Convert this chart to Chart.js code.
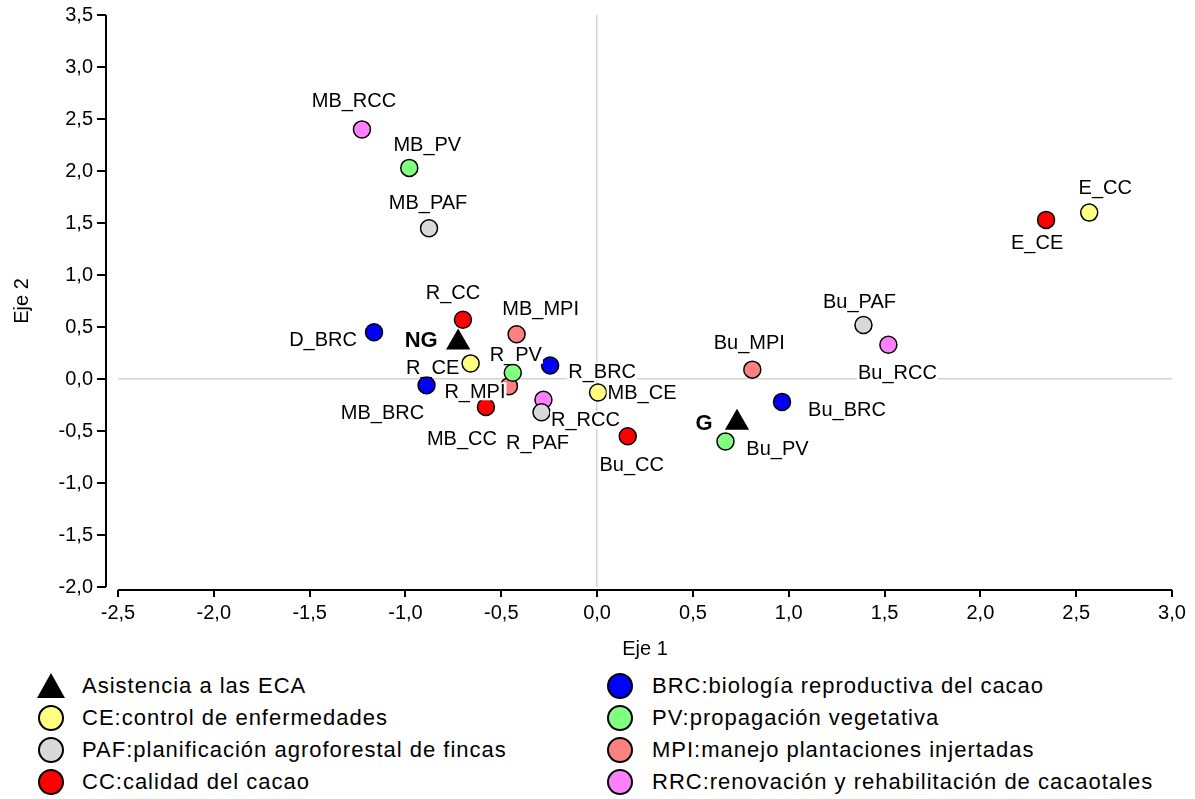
<!DOCTYPE html>
<html>
<head>
<meta charset="utf-8">
<script src="https://cdn.jsdelivr.net/npm/chart.js@4/dist/chart.umd.min.js"></script>
<style>
  body { margin: 0; background: #fff; }
  #wrap { position: relative; width: 1195px; height: 799px; }
  #grafico { position: absolute; left: 0; top: 0; }
  .item { position: absolute; height: 30px; display: flex; align-items: center; white-space: nowrap;
          font: 22px "Liberation Sans", Arial, sans-serif; letter-spacing: 1px; color: #000; }
  .marca { position: absolute; }
</style>
</head>
<body>
<div id="wrap">
  <canvas id="grafico" width="1195" height="665"></canvas>
  <div id="leyenda"></div>
</div>
<script>
// puntos del biplot
const nombres = ['NG', 'G', 'R_CE', 'MB_CE', 'E_CC', 'MB_PAF', 'R_PAF', 'Bu_PAF', 'R_CC', 'MB_CC', 'Bu_CC', 'E_CE',
    'D_BRC', 'R_BRC', 'MB_BRC', 'Bu_BRC', 'MB_PV', 'R_PV', 'Bu_PV', 'MB_MPI', 'R_MPI', 'Bu_MPI', 'MB_RCC', 'R_RCC', 'Bu_RCC'];
const eje1 = [-0.725, 0.73, -0.66, 0.005, 2.568, -0.877, -0.29, 1.39, -0.70, -0.58, 0.16, 2.343,
    -1.164, -0.245, -0.89, 0.965, -0.98, -0.44, 0.67, -0.42, -0.46, 0.81, -1.227, -0.28, 1.52];
const eje2 = [0.35, -0.42, 0.15, -0.13, 1.60, 1.45, -0.32, 0.52, 0.57, -0.27, -0.55, 1.53,
    0.45, 0.13, -0.06, -0.22, 2.03, 0.06, -0.60, 0.43, -0.07, 0.09, 2.40, -0.20, 0.33];
const grupo = ['ECA', 'ECA', 'CE', 'CE', 'CE', 'PAF', 'PAF', 'PAF', 'CC', 'CC', 'CC', 'CC',
    'BRC', 'BRC', 'BRC', 'BRC', 'PV', 'PV', 'PV', 'MPI', 'MPI', 'MPI', 'RRC', 'RRC', 'RRC'];

const categorias = ['ECA', 'CE', 'PAF', 'CC', 'BRC', 'PV', 'MPI', 'RRC'];
const leyendaTextos = ['Asistencia a las ECA', 'CE:control de enfermedades', 'PAF:planificación agroforestal de fincas',
    'CC:calidad del cacao', 'BRC:biología reproductiva del cacao', 'PV:propagación vegetativa',
    'MPI:manejo plantaciones injertadas', 'RRC:renovación y rehabilitación de cacaotales'];

const colores = { ECA: '#000000', CE: '#ffff80', PAF: '#d9d9d9', CC: '#ff0000', BRC: '#0000ff', PV: '#80ff80', MPI: '#ff8080', RRC: '#ff80ff' };

// desplazamiento de cada etiqueta respecto a su punto (px)
const posEtiqueta = {
    NG: [-37, -3], G: [-33, 0], R_CE: [-38, 4], MB_CE: [44, 0], E_CC: [16, -25], MB_PAF: [-1, -26],
    R_PAF: [-4, 30], Bu_PAF: [-4, -23], R_CC: [-10, -27], MB_CC: [-24, 31], Bu_CC: [4, 28], E_CE: [-9, 23],
    D_BRC: [-51, 7], R_BRC: [52, 6], MB_BRC: [-44, 27], Bu_BRC: [65, 8], MB_PV: [18, -23], R_PV: [3, -18],
    Bu_PV: [52, 7], MB_MPI: [24, -26], R_MPI: [-34, 5], Bu_MPI: [-3, -27], MB_RCC: [-8, -29], R_RCC: [42, 20],
    Bu_RCC: [9, 28]
};

const fmt = v => v.toFixed(1).replace('.', ',');

const datasets = categorias.map(function (cat) {
    const pts = [];
    const nom = [];
    nombres.forEach(function (n, i) {
        if (grupo[i] === cat) {
            pts.push({ x: eje1[i], y: eje2[i] });
            nom.push(n);
        }
    });
    const tri = cat === 'ECA';
    return {
        label: cat,
        data: pts,
        nombres: nom,
        pointStyle: tri ? 'triangle' : 'circle',
        pointRadius: tri ? 14 : 8.5,
        backgroundColor: colores[cat],
        borderColor: '#000',
        borderWidth: tri ? 0 : 1.5,
    };
});

const ejesPlugin = {
    id: 'ejes',
    afterDraw(chart) {
        const { ctx, chartArea: a, scales } = chart;
        ctx.save();
        ctx.strokeStyle = '#000';
        ctx.lineWidth = 2;
        ctx.beginPath();
        const yx = a.left - 12;
        ctx.moveTo(yx, a.top);
        ctx.lineTo(yx, a.bottom);
        scales.y.ticks.forEach(function (t) {
            const py = Math.round(scales.y.getPixelForValue(t.value));
            ctx.moveTo(yx - 9, py);
            ctx.lineTo(yx, py);
        });
        const xy = a.bottom + 3;
        ctx.moveTo(a.left, xy);
        ctx.lineTo(a.right, xy);
        scales.x.ticks.forEach(function (t) {
            const px = Math.round(scales.x.getPixelForValue(t.value));
            ctx.moveTo(px, xy);
            ctx.lineTo(px, xy + 7);
        });
        ctx.stroke();
        ctx.restore();
    }
};

const etiquetasPlugin = {
    id: 'etiquetas',
    afterDatasetsDraw(chart) {
        const ctx = chart.ctx;
        ctx.save();
        ctx.textAlign = 'center';
        ctx.textBaseline = 'middle';
        chart.data.datasets.forEach(function (ds, i) {
            const meta = chart.getDatasetMeta(i);
            meta.data.forEach(function (el, j) {
                const n = ds.nombres[j];
                const off = posEtiqueta[n] || [0, -25];
                const bold = ds.label === 'ECA';
                ctx.font = (bold ? 'bold 22px' : '20px') + ' "Liberation Sans", Arial, sans-serif';
                const w = ctx.measureText(n).width;
                const cx = el.x + off[0];
                const cy = el.y + off[1];
                ctx.fillStyle = '#fff';
                ctx.fillRect(cx - w / 2 - 1, cy - 9, w + 2, 18);
                ctx.fillStyle = '#000';
                ctx.fillText(n, cx, cy + 1);
            });
        });
        ctx.restore();
    }
};

const ctx = document.getElementById('grafico');
new Chart(ctx, {
    type: 'scatter',
    data: { datasets: datasets },
    options: {
        responsive: false,
        animation: false,
        layout: { padding: { top: 15, right: 23, left: 0, bottom: 0 } },
        plugins: { legend: { display: false }, tooltip: { enabled: false } },
        scales: {
            x: {
                type: 'linear',
                min: -2.5,
                max: 3.0,
                afterFit: function (s) { s.height = 78; s.paddingLeft = 0; s.paddingRight = 0; },
                afterBuildTicks: function (s) {
                    s.ticks = [-2.5, -2, -1.5, -1, -0.5, 0, 0.5, 1, 1.5, 2, 2.5, 3].map(v => ({ value: v }));
                },
                border: { display: false },
                grid: {
                    drawTicks: false,
                    lineWidth: 1.5,
                    color: c => (c.tick && c.tick.value === 0 ? '#d4d4d4' : 'rgba(0,0,0,0)'),
                },
                ticks: {
                    padding: 14,
                    color: '#000',
                    maxRotation: 0,
                    autoSkip: false,
                    font: { family: '"Liberation Sans", Arial', size: 20 },
                    callback: v => fmt(v),
                },
                title: {
                    display: true,
                    text: 'Eje 1',
                    color: '#000',
                    padding: { top: 4, bottom: 4 },
                    font: { family: '"Liberation Sans", Arial', size: 20 },
                },
            },
            y: {
                type: 'linear',
                min: -2.0,
                max: 3.5,
                afterFit: function (s) { s.width = 118; s.paddingTop = 0; s.paddingBottom = 0; },
                afterBuildTicks: function (s) {
                    s.ticks = [-2, -1.5, -1, -0.5, 0, 0.5, 1, 1.5, 2, 2.5, 3, 3.5].map(v => ({ value: v }));
                },
                border: { display: false },
                grid: {
                    drawTicks: false,
                    lineWidth: 1.5,
                    color: c => (c.tick && c.tick.value === 0 ? '#d4d4d4' : 'rgba(0,0,0,0)'),
                },
                ticks: {
                    padding: 25,
                    color: '#000',
                    autoSkip: false,
                    font: { family: '"Liberation Sans", Arial', size: 20 },
                    callback: v => fmt(v),
                },
                title: {
                    display: true,
                    text: 'Eje 2',
                    color: '#000',
                    padding: { top: 10, bottom: 4 },
                    font: { family: '"Liberation Sans", Arial', size: 20 },
                },
            },
        },
    },
    plugins: [ejesPlugin, etiquetasPlugin],
});

// leyenda en dos columnas
const leyenda = document.getElementById('leyenda');
const filasY = [686, 718, 750, 782];
categorias.forEach(function (cat, i) {
    const col = Math.floor(i / 4);
    const fila = i % 4;
    const mx = col === 0 ? 51 : 620;
    const tx = col === 0 ? 82 : 652;
    const y = filasY[fila];
    const marca = document.createElementNS('http://www.w3.org/2000/svg', 'svg');
    marca.setAttribute('width', 30);
    marca.setAttribute('height', 30);
    marca.setAttribute('class', 'marca');
    marca.style.left = (mx - 15) + 'px';
    marca.style.top = (y - 15) + 'px';
    if (cat === 'ECA') {
        marca.innerHTML = '<polygon points="15,2 29,27 1,27" fill="#000"/>';
    } else {
        marca.innerHTML = '<circle cx="15" cy="15" r="12" fill="' + colores[cat] + '" stroke="#000" stroke-width="2"/>';
    }
    leyenda.appendChild(marca);
    const t = document.createElement('div');
    t.className = 'item';
    t.style.left = tx + 'px';
    t.style.top = (y - 15) + 'px';
    t.textContent = leyendaTextos[i];
    leyenda.appendChild(t);
});
</script>
</body>
</html>
